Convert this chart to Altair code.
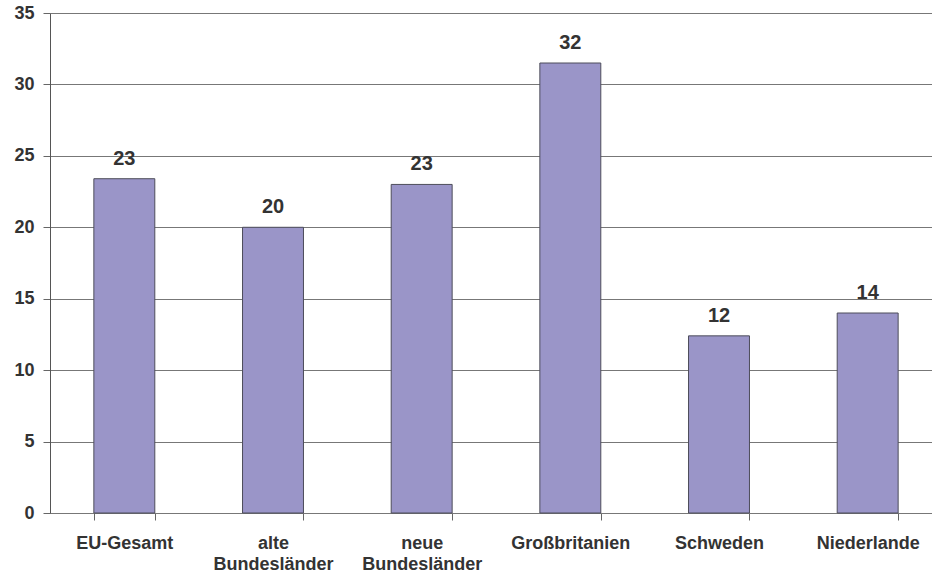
import altair as alt
import pandas as pd

categories = ["EU-Gesamt", "alte\nBundesländer", "neue\nBundesländer", "Großbritanien", "Schweden", "Niederlande"]
values = [23.4, 20.0, 23.0, 31.5, 12.4, 14.0]
labels = ["23", "20", "23", "32", "12", "14"]

df = pd.DataFrame({"cat": categories, "val": values, "lab": labels})

xscale = alt.Scale(paddingInner=0.59, paddingOuter=0.295, range=[0, 892])
x = alt.X("cat:N", sort=categories, title=None, scale=xscale,
          axis=alt.Axis(labelAngle=0, labelExpr="split(datum.label, '\\n')",
                        labelFont="Liberation Sans", labelFontWeight="bold", labelFontSize=18,
                        labelColor="#333333", labelPadding=14, labelLineHeight=21,
                        tickSize=7, tickColor="#666666", tickBand="extent",
                        domainColor="#777777", grid=False, labelBaseline="top"))
y = alt.Y("val:Q", title=None,
          scale=alt.Scale(domain=[0, 35], nice=False),
          axis=alt.Axis(values=[0, 5, 10, 15, 20, 25, 30, 35],
                        labelFont="Liberation Sans", labelFontWeight="bold", labelFontSize=18,
                        labelColor="#333333", labelPadding=9, tickSize=7,
                        tickColor="#666666", domainColor="#555555",
                        gridColor="#777777", gridWidth=1, gridOpacity=1))

bars = alt.Chart(df).mark_bar(color="#9A95C8", stroke="#4d4d5a", strokeWidth=1).encode(x=x, y=y)
text = alt.Chart(df).mark_text(font="Liberation Sans", fontWeight="bold", fontSize=20,
                               color="#333333", baseline="alphabetic", dy=-14).encode(
    x=alt.X("cat:N", sort=categories), y="val:Q", text="lab:N")

chart = (bars + text).properties(
    width=882, height=500,
    autosize=alt.AutoSizeParams(type="none"),
    padding={"left": 50, "top": 13, "right": 0, "bottom": 63},
).configure_view(stroke=None).configure(background="white")

chart.save("out.html", embed_options={"renderer": "svg", "actions": False})
